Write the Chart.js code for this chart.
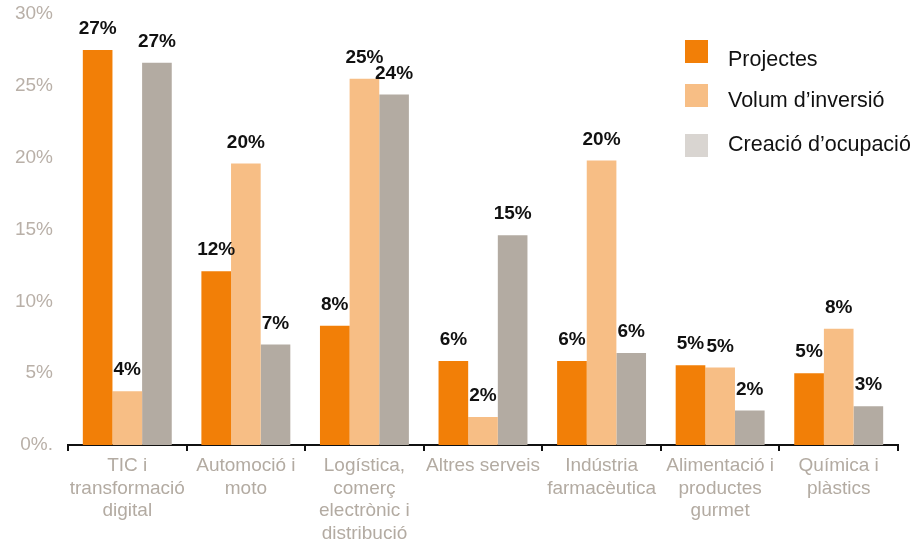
<!DOCTYPE html>
<html>
<head>
<meta charset="utf-8">
<script src="https://cdn.jsdelivr.net/npm/chart.js@4"></script>
<style>
  html, body { margin: 0; padding: 0; background: #fff; }
  #wrap { position: relative; width: 918px; height: 543px; }
  #legend { position: absolute; left: 685px; top: 0px; font-family: "Liberation Sans", Arial, sans-serif; font-size: 21.5px; color: #111; }
  .sw { position: absolute; left: 0; width: 23px; height: 23px; }
  .tx { position: absolute; left: 43px; line-height: 26px; white-space: nowrap; }
</style>
</head>
<body>
<div id="wrap">
  <canvas id="c" width="918" height="543"></canvas>
  <div id="legend"></div>
</div>
<script>
const categories = [
  ["TIC i", "transformació", "digital"],
  ["Automoció i", "moto"],
  ["Logística,", "comerç", "electrònic i", "distribució"],
  ["Altres serveis"],
  ["Indústria", "farmacèutica"],
  ["Alimentació i", "productes", "gurmet"],
  ["Química i", "plàstics"]
];
const seriesNames = ["Projectes", "Volum d’inversió", "Creació d’ocupació"];
const projectes = [27.5, 12.1, 8.3, 5.85, 5.85, 5.55, 5.0];
const volum     = [3.75, 19.6, 25.5, 1.95, 19.8, 5.4, 8.1];
const creacio   = [26.6, 7.0, 24.4, 14.6, 6.4, 2.4, 2.7];
const projectesLabels = ["27%", "12%", "8%", "6%", "6%", "5%", "5%"];
const volumLabels     = ["4%", "20%", "25%", "2%", "20%", "5%", "8%"];
const creacioLabels   = ["27%", "7%", "24%", "15%", "6%", "2%", "3%"];
const yTickLabels = {0: "0%.", 5: "5%", 10: "10%", 15: "15%", 20: "20%", 25: "25%", 30: "30%"};

const barColors = ["#f27f07", "#f7be85", "#b3aba2"];
const legendColors = ["#f27f07", "#f7be85", "#d9d5d1"];
const valueLabels = [projectesLabels, volumLabels, creacioLabels];

const valueLabelPlugin = {
  id: "valueLabels",
  afterDatasetsDraw(chart) {
    const ctx = chart.ctx;
    ctx.save();
    ctx.font = "bold 19px 'Liberation Sans', Arial, sans-serif";
    ctx.fillStyle = "#111";
    ctx.textAlign = "center";
    ctx.textBaseline = "middle";
    chart.data.datasets.forEach((ds, di) => {
      const meta = chart.getDatasetMeta(di);
      meta.data.forEach((bar, i) => {
        ctx.fillText(valueLabels[di][i], bar.x, bar.y - 21);
      });
    });
    ctx.restore();
  }
};

const chart = new Chart(document.getElementById("c"), {
  type: "bar",
  data: {
    labels: categories,
    datasets: [
      { label: seriesNames[0], data: projectes, backgroundColor: barColors[0] },
      { label: seriesNames[1], data: volum, backgroundColor: barColors[1] },
      { label: seriesNames[2], data: creacio, backgroundColor: barColors[2] }
    ]
  },
  options: {
    responsive: false,
    animation: false,
    devicePixelRatio: 1,
    layout: { padding: { top: 14, right: 20, left: 0, bottom: 0 } },
    datasets: { bar: { barPercentage: 1.0, categoryPercentage: 0.75 } },
    plugins: { legend: { display: false }, tooltip: { enabled: false } },
    scales: {
      x: {
        grid: { display: true, offset: true, drawOnChartArea: false, drawTicks: true, tickLength: 6, color: "#111", lineWidth: 2 },
        border: { display: true, color: "#111", width: 2 },
        ticks: {
          color: "#b3aba2",
          font: { family: "'Liberation Sans', Arial, sans-serif", size: 19, lineHeight: 1.18 },
          maxRotation: 0, autoSkip: false, padding: 4
        },
        afterFit(scale) { scale.height = 98; }
      },
      y: {
        min: 0, max: 30,
        grid: { display: false },
        border: { display: false },
        ticks: {
          stepSize: 5,
          color: "#b9b0a8",
          font: { family: "'Liberation Sans', Arial, sans-serif", size: 19 },
          padding: 7,
          callback: (v) => yTickLabels[v] !== undefined ? yTickLabels[v] : ""
        },
        afterFit(scale) { scale.width = 68; scale.paddingTop = 0; }
      }
    }
  },
  plugins: [valueLabelPlugin]
});

const legend = document.getElementById("legend");
const swatchTops = [40, 84, 134];
const textCenters = [59, 100, 144];
seriesNames.forEach((name, i) => {
  const sw = document.createElement("div");
  sw.className = "sw";
  sw.style.top = swatchTops[i] + "px";
  sw.style.background = legendColors[i];
  const tx = document.createElement("div");
  tx.className = "tx";
  tx.style.top = (textCenters[i] - 13) + "px";
  tx.textContent = name;
  legend.appendChild(sw);
  legend.appendChild(tx);
});
</script>
</body>
</html>
